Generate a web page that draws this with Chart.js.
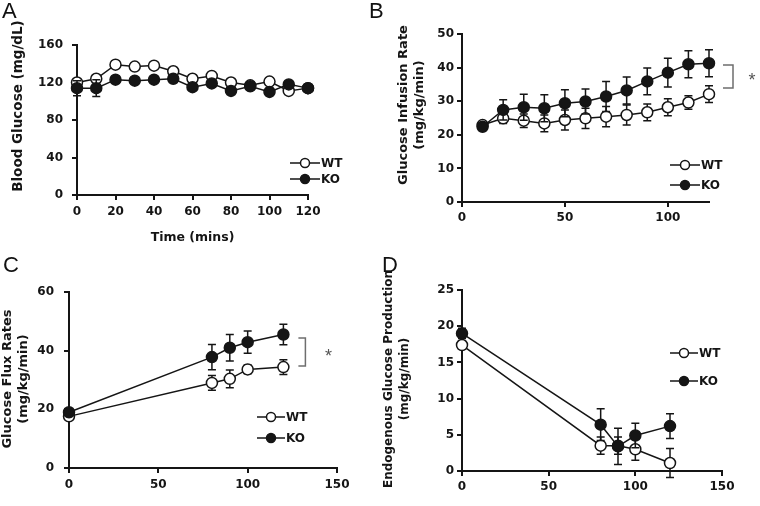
<!DOCTYPE html>
<html>
<head>
<meta charset="utf-8">
<title>Glucose clamp</title>
<script src="https://cdn.jsdelivr.net/npm/chart.js@4.4.1/dist/chart.umd.min.js"></script>
<style>
  body { margin: 0; background: #fff; }
  #fig { position: relative; width: 760px; height: 506px; overflow: hidden; }
  .cell { position: absolute; width: 380px; height: 253px; }
  .cell canvas { display: block; }
  .tag { position: absolute; font: 22px "Liberation Sans", Arial, sans-serif; line-height: 1; color: #111; }
</style>
</head>
<body>
<div id="fig">
  <div class="cell" style="left:0;top:0"><canvas id="chartA" width="380" height="253"></canvas></div>
  <div class="cell" style="left:380px;top:0"><canvas id="chartB" width="380" height="253"></canvas></div>
  <div class="cell" style="left:0;top:253px"><canvas id="chartC" width="380" height="253"></canvas></div>
  <div class="cell" style="left:380px;top:253px"><canvas id="chartD" width="380" height="253"></canvas></div>
  <div class="tag" style="left:2px;top:0px">A</div>
  <div class="tag" style="left:369px;top:0px">B</div>
  <div class="tag" style="left:3px;top:254px">C</div>
  <div class="tag" style="left:382px;top:254px">D</div>
</div>
<script>
// A - blood glucose during clamp
const timeA = [0, 10, 20, 30, 40, 50, 60, 70, 80, 90, 100, 110, 120];
const wtA = [120, 124, 139, 137, 138, 132, 124, 127, 120, 117, 121, 111, 114];
const wtErrA = [2, 1.5, 1.5, 1.5, 1.5, 1.5, 1.5, 1.5, 1.5, 1.5, 1.5, 1.5, 1.5];
const koA = [114, 114, 123, 122, 123, 124, 115, 119, 111, 116, 110, 118, 114];
const koErrA = [8, 9, 1.5, 1.5, 1.5, 1.5, 1.5, 1.5, 1.5, 1.5, 1.5, 1.5, 1.5];
const xTicksA = [0, 20, 40, 60, 80, 100, 120];
const yTicksA = [0, 40, 80, 120, 160];

// B - glucose infusion rate
const timeB = [10, 20, 30, 40, 50, 60, 70, 80, 90, 100, 110, 120];
const wtB = [22.9, 24.9, 24.2, 23.4, 24.4, 24.9, 25.4, 25.9, 26.7, 28.2, 29.6, 32.1];
const wtErrB = [1, 1.5, 2, 2.5, 3, 3, 3, 3, 2.5, 2.5, 2, 2.5];
const koB = [22.4, 27.4, 28.2, 27.9, 29.4, 29.9, 31.4, 33.2, 35.9, 38.5, 41, 41.3];
const koErrB = [1, 3, 3.9, 4, 4, 3.7, 4.5, 4, 4, 4.3, 4, 4];
const xTicksB = [0, 50, 100];
const yTicksB = [0, 10, 20, 30, 40, 50];

// C - glucose flux rates
const timeC = [0, 80, 90, 100, 120];
const wtC = [17.6, 29, 30.4, 33.6, 34.4];
const wtErrC = [0.8, 2.5, 3, 1.5, 2.5];
const koC = [19, 37.8, 41, 42.9, 45.5];
const koErrC = [0.8, 4.3, 4.5, 3.8, 3.5];
const xTicksC = [0, 50, 100, 150];
const yTicksC = [0, 20, 40, 60];

// D - endogenous glucose production
const timeD = [0, 80, 90, 100, 120];
const wtD = [17.4, 3.5, 3.5, 3, 1.1];
const wtErrD = [0.5, 1.2, 1.2, 1.5, 2];
const koD = [19, 6.4, 3.4, 4.9, 6.2];
const koErrD = [0.7, 2.2, 2.5, 1.7, 1.7];
const xTicksD = [0, 50, 100, 150];
const yTicksD = [0, 5, 10, 15, 20, 25];

const INK = '#151515';
const FONT = 'DejaVu Sans';

Chart.defaults.font.family = FONT;
Chart.defaults.font.weight = 'bold';
Chart.defaults.color = INK;

// vertical error bars, drawn under each dataset's line and markers
const errorBars = {
  id: 'errorBars',
  beforeDatasetDraw(chart, args) {
    const ds = chart.data.datasets[args.index];
    if (!ds.err) return;
    const ctx = chart.ctx;
    const yScale = chart.scales[args.meta.yAxisID];
    ctx.save();
    ctx.strokeStyle = INK;
    ctx.lineWidth = 1.5;
    args.meta.data.forEach((pt, i) => {
      const v = ds.data[i].y, e = ds.err[i];
      const y1 = yScale.getPixelForValue(v + e);
      const y2 = yScale.getPixelForValue(v - e);
      ctx.beginPath();
      ctx.moveTo(pt.x, y1); ctx.lineTo(pt.x, y2);
      ctx.moveTo(pt.x - 4, y1); ctx.lineTo(pt.x + 4, y1);
      ctx.moveTo(pt.x - 4, y2); ctx.lineTo(pt.x + 4, y2);
      ctx.stroke();
    });
    ctx.restore();
  }
};

// legend with a line sample and marker, placed inside the plot
const lineLegend = {
  id: 'lineLegend',
  afterDraw(chart, args, opts) {
    const ctx = chart.ctx;
    ctx.save();
    chart.data.datasets.forEach((ds, i) => {
      const y = opts.y[i];
      ctx.strokeStyle = INK;
      ctx.lineWidth = 1.5;
      ctx.beginPath();
      ctx.moveTo(opts.x, y); ctx.lineTo(opts.x + opts.len, y);
      ctx.stroke();
      ctx.beginPath();
      ctx.arc(opts.x + opts.len / 2, y, 4.5, 0, Math.PI * 2);
      ctx.fillStyle = ds.pointBackgroundColor;
      ctx.fill();
      ctx.stroke();
      ctx.fillStyle = INK;
      ctx.font = 'bold 12px ' + FONT;
      ctx.textBaseline = 'middle';
      ctx.fillText(ds.label, opts.x + opts.len + 1, y + 1);
    });
    ctx.restore();
  }
};

// rotated y axis title, one or two lines
const yTitle = {
  id: 'yTitle',
  afterDraw(chart, args, opts) {
    const ctx = chart.ctx;
    ctx.save();
    ctx.fillStyle = INK;
    ctx.font = 'bold ' + (opts.size || 13) + 'px ' + FONT;
    ctx.textAlign = 'center';
    ctx.textBaseline = 'middle';
    opts.lines.forEach((txt, i) => {
      ctx.save();
      ctx.translate(opts.x[i], opts.y);
      ctx.rotate(-Math.PI / 2);
      ctx.fillText(txt, 0, 0);
      ctx.restore();
    });
    ctx.restore();
  }
};

// significance bracket between the last KO and WT points
const sigBracket = {
  id: 'sigBracket',
  afterDraw(chart, args, opts) {
    if (!opts.range) return;
    const ctx = chart.ctx;
    const x0 = chart.scales.x.getPixelForValue(opts.at);
    const yTop = chart.scales.y.getPixelForValue(opts.range[0]);
    const yBot = chart.scales.y.getPixelForValue(opts.range[1]);
    const xa = x0 + opts.dx[0], xb = x0 + opts.dx[1];
    ctx.save();
    ctx.strokeStyle = '#6e6e6e';
    ctx.lineWidth = 1.5;
    ctx.beginPath();
    ctx.moveTo(xa, yTop); ctx.lineTo(xb, yTop); ctx.lineTo(xb, yBot); ctx.lineTo(xa, yBot);
    ctx.stroke();
    ctx.fillStyle = '#555';
    ctx.font = '18px "Liberation Sans"';
    ctx.textAlign = 'center';
    ctx.textBaseline = 'middle';
    ctx.fillText('*', x0 + opts.dx[2], (yTop + yBot) / 2 + 5);
    ctx.restore();
  }
};

function series(xs, ys) {
  return xs.map((t, i) => ({x: t, y: ys[i]}));
}

function panel(id, o) {
  const W = 380, H = 253;
  const a = o.area;
  const tickFont = {family: FONT, weight: 'bold', size: 12};
  const axis = (ticks, lo, hi, pad) => ({
    type: 'linear',
    min: lo,
    max: hi,
    afterBuildTicks: s => { s.ticks = ticks.map(v => ({value: v})); },
    ticks: {font: tickFont, color: INK, padding: pad, autoSkip: false, maxRotation: 0},
    grid: {drawOnChartArea: false, drawTicks: true, tickLength: 5, color: INK, lineWidth: 2},
    border: {display: true, color: INK, width: 2}
  });
  const x = axis(o.xTicks, o.xMin, o.xMax, o.xPad);
  x.afterFit = s => { s.height = H - a.bottom; };
  if (o.xTitle) {
    x.title = {display: true, text: o.xTitle, color: INK,
      font: {family: FONT, weight: 'bold', size: 12.5}, padding: {top: 0, bottom: 8}};
  }
  const y = axis(o.yTicks, o.yTicks[0], o.yTicks[o.yTicks.length - 1], o.yPad);
  y.afterFit = s => { s.width = a.left; };

  const common = {
    borderColor: INK,
    borderWidth: 1.5,
    pointRadius: 5.5,
    pointBorderWidth: 1.5,
    pointBorderColor: INK,
    pointHoverRadius: 5.5,
    clip: false,
    tension: 0
  };

  new Chart(document.getElementById(id), {
    type: 'line',
    data: {
      datasets: [
        Object.assign({label: 'WT', data: series(o.time, o.wt), err: o.wtErr,
          pointBackgroundColor: '#ffffff', order: 1}, common),
        Object.assign({label: 'KO', data: series(o.time, o.ko), err: o.koErr,
          pointBackgroundColor: INK, order: 0}, common)
      ]
    },
    options: {
      responsive: false,
      animation: false,
      events: [],
      layout: {padding: {left: 0, top: a.top, right: W - a.right, bottom: 0}},
      scales: {x: x, y: y},
      plugins: {
        legend: {display: false},
        tooltip: {enabled: false},
        lineLegend: o.legend,
        yTitle: o.yTitle,
        sigBracket: o.bracket || {}
      }
    },
    plugins: [errorBars, lineLegend, yTitle, sigBracket]
  });
}

panel('chartA', {
  time: timeA, wt: wtA, wtErr: wtErrA, ko: koA, koErr: koErrA,
  xTicks: xTicksA, xMin: 0, xMax: 120, yTicks: yTicksA,
  area: {left: 77, top: 45, right: 308, bottom: 195},
  xPad: 5, yPad: 9, xTitle: 'Time (mins)',
  yTitle: {lines: ['Blood Glucose (mg/dL)'], x: [18], y: 106, size: 13.5},
  legend: {x: 290, len: 30, y: [163, 179]}
});

panel('chartB', {
  time: timeB, wt: wtB, wtErr: wtErrB, ko: koB, koErr: koErrB,
  xTicks: xTicksB, xMin: 0, xMax: 120, yTicks: yTicksB,
  area: {left: 82, top: 34, right: 329, bottom: 202},
  xPad: 4, yPad: 3,
  yTitle: {lines: ['Glucose Infusion Rate', '(mg/kg/min)'], x: [24, 40], y: 105},
  legend: {x: 290, len: 30, y: [165, 185]},
  bracket: {at: 120, range: [40.8, 33.9], dx: [14, 24, 43]}
});

panel('chartC', {
  time: timeC, wt: wtC, wtErr: wtErrC, ko: koC, koErr: koErrC,
  xTicks: xTicksC, xMin: 0, xMax: 150, yTicks: yTicksC,
  area: {left: 69, top: 39, right: 337, bottom: 215},
  xPad: 5, yPad: 10,
  yTitle: {lines: ['Glucose Flux Rates', '(mg/kg/min)'], x: [8, 24], y: 126},
  legend: {x: 257, len: 28, y: [164, 185]},
  bracket: {at: 120, range: [44.3, 34.8], dx: [15, 22, 45]}
});

panel('chartD', {
  time: timeD, wt: wtD, wtErr: wtErrD, ko: koD, koErr: koErrD,
  xTicks: xTicksD, xMin: 0, xMax: 150, yTicks: yTicksD,
  area: {left: 82, top: 37, right: 342, bottom: 218},
  xPad: 4, yPad: 3,
  yTitle: {lines: ['Endogenous Glucose Production', '(mg/kg/min)'], x: [9, 25], y: 126, size: 12},
  legend: {x: 290, len: 28, y: [100, 128]}
});
</script>
</body>
</html>
